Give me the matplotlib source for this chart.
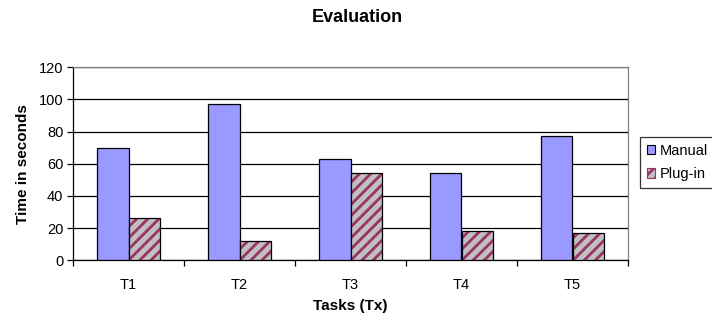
import matplotlib.pyplot as plt
import matplotlib.patches as mpatches
import numpy as np

plt.rcParams['font.family'] = ['Liberation Sans', 'DejaVu Sans']
plt.rcParams['hatch.linewidth'] = 2.0

# --- data ---
tasks = ["T1", "T2", "T3", "T4", "T5"]
manual = [70, 97, 63, 54, 77]
plugin = [26.5, 12, 54, 18, 17]
y_ticks = [0, 20, 40, 60, 80, 100, 120]

MANUAL_CLR = "#9999FF"
PLUGIN_BG = "#C0C0C0"
PLUGIN_HATCH = "#993366"

fig = plt.figure(figsize=(7.12, 3.23), dpi=100, facecolor='white')
ax = fig.add_axes([73/712, (323-260.3)/323, 555/712, 193/323])

x = np.arange(len(tasks))
w = 0.288

ax.bar(x - w/2, manual, w, color=MANUAL_CLR, edgecolor='black', linewidth=0.9, zorder=3)
# hatched fill first, then a plain black outline on top
ax.bar(x + w/2, plugin, w, color=PLUGIN_BG, edgecolor=PLUGIN_HATCH, hatch='///', linewidth=0, zorder=3)
ax.bar(x + w/2, plugin, w, fill=False, edgecolor='black', linewidth=0.9, zorder=4)

ax.set_xlim(-0.5, len(tasks) - 0.5)
ax.set_ylim(0, 120)
ax.set_yticks(y_ticks)
ax.set_xticks(x)
ax.set_xticklabels(tasks)
ax.set_xticks(np.arange(len(tasks) + 1) - 0.5, minor=True)
ax.tick_params(axis='x', which='major', length=0, pad=13, labelsize=10.5)
ax.tick_params(axis='x', which='minor', length=4, width=0.9, direction='out')
ax.tick_params(axis='y', length=4, width=0.9, direction='out', labelsize=10.5, pad=3)

ax.yaxis.grid(True, color='black', linewidth=0.9, zorder=0)
ax.set_axisbelow(True)
for side in ['top', 'right']:
    ax.spines[side].set_color('#808080')
    ax.spines[side].set_linewidth(0.9)
for side in ['left', 'bottom']:
    ax.spines[side].set_color('black')
    ax.spines[side].set_linewidth(0.9)

ax.set_ylabel("Time in seconds", fontsize=11, fontweight='bold', labelpad=6)
ax.set_xlabel("Tasks (Tx)", fontsize=11, fontweight='bold', labelpad=5)
fig.text(357/712, 1 - 18/323, "Evaluation", ha='center', va='center', fontsize=13, fontweight='bold')

handles = [
    mpatches.Patch(facecolor=MANUAL_CLR, edgecolor='black', linewidth=0.8),
    mpatches.Patch(facecolor=PLUGIN_BG, edgecolor=PLUGIN_HATCH, hatch='///', linewidth=0.8),
]
leg = fig.legend(handles, ["Manual", "Plug-in"], loc='upper left',
                 bbox_to_anchor=(640/712, 1 - 137/323), fontsize=10.5,
                 frameon=True, fancybox=False, edgecolor='black',
                 handlelength=0.6, handleheight=0.6, handletextpad=0.3,
                 borderpad=0.45, labelspacing=0.65, borderaxespad=0)
leg.get_frame().set_linewidth(0.9)

fig.savefig("out.png", dpi=100, facecolor='white')
